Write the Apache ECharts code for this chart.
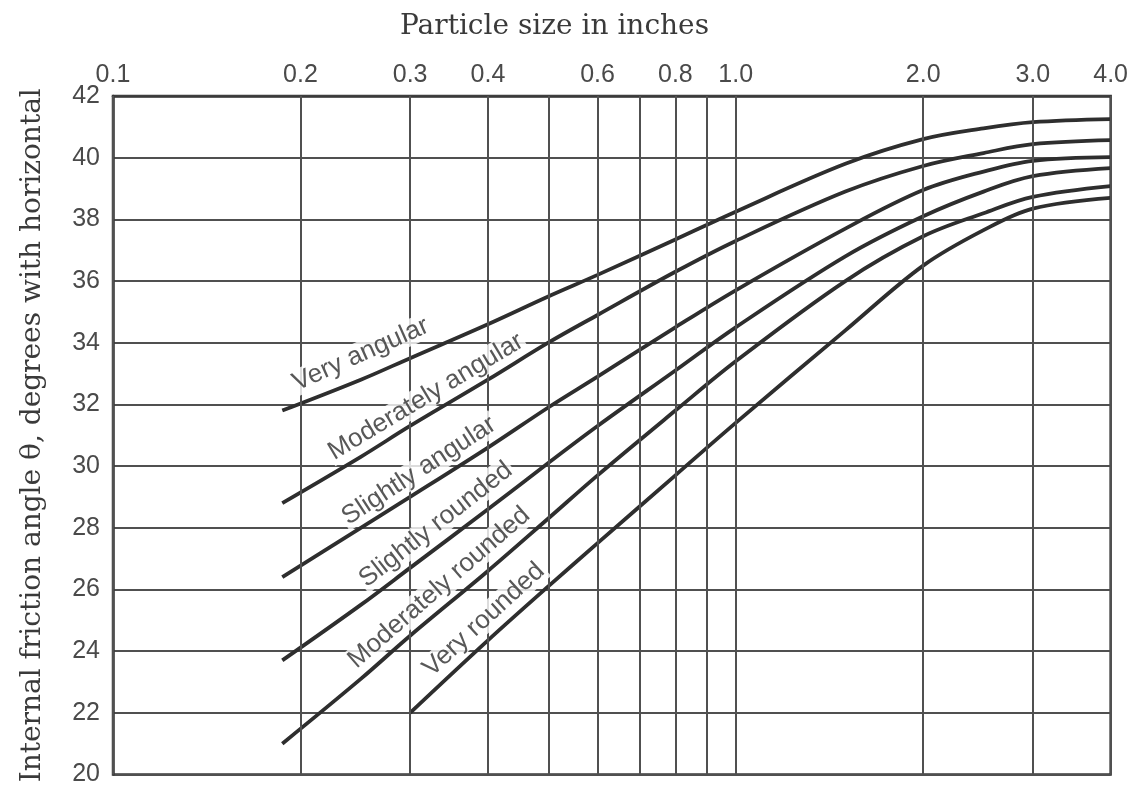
<!DOCTYPE html>
<html><head><meta charset="utf-8">
<script src="https://cdn.jsdelivr.net/npm/echarts@6/dist/echarts.min.js"></script>
<style>html,body{margin:0;padding:0;background:#fff}#c{width:1131px;height:787px}</style>
</head><body><div id="c"></div>
<script>
// ---------- data ----------
const xTickLabels = [0.1, 0.2, 0.3, 0.4, 0.6, 0.8, 1.0, 2.0, 3.0, 4.0];
const xGridValues = [0.1, 0.2, 0.3, 0.4, 0.5, 0.6, 0.7, 0.8, 0.9, 1.0, 2.0, 3.0, 4.0];
const curveNames = ['Very angular', 'Moderately angular', 'Slightly angular',
                    'Slightly rounded', 'Moderately rounded', 'Very rounded'];
const sizeA = [0.187, 0.25, 0.3, 0.4, 0.5, 0.6, 0.8, 1.0, 1.5, 2.0, 2.5, 3.0, 4.0];
const veryAngular       = [31.8, 32.8, 33.5, 34.6, 35.5, 36.2, 37.35, 38.25, 39.8, 40.6, 40.95, 41.15, 41.25];
const moderatelyAngular = [28.8, 30.3, 31.3, 32.8, 34.0, 34.9, 36.3, 37.3, 38.9, 39.73, 40.15, 40.44, 40.57];
const slightlyAngular   = [26.4, 28.0, 29.0, 30.6, 31.9, 32.9, 34.5, 35.7, 37.7, 38.95, 39.55, 39.9, 40.02];
const slightlyRounded   = [23.7, 25.5, 26.7, 28.6, 30.1, 31.3, 33.1, 34.5, 36.8, 38.1, 38.9, 39.4, 39.66];
const moderatelyRounded = [21.0, 23.1, 24.5, 26.6, 28.3, 29.7, 31.8, 33.4, 36.0, 37.45, 38.2, 38.73, 39.08];
const sizeB = [0.3, 0.4, 0.5, 0.6, 0.8, 1.0, 1.5, 2.0, 2.5, 3.0, 4.0];
const veryRounded       = [22.0, 24.35, 26.1, 27.5, 29.7, 31.4, 34.4, 36.5, 37.65, 38.35, 38.7];

// ---------- layout of curve captions (data-space anchors, angle) ----------
const captionLayout = [
  {x: 0.250, y: 33.62, angle: 24},
  {x: 0.318, y: 32.25, angle: 31},
  {x: 0.310, y: 29.85, angle: 33},
  {x: 0.330, y: 28.10, angle: 38},
  {x: 0.334, y: 26.06, angle: 41},
  {x: 0.394, y: 25.02, angle: 42.5}
];

const curves = [
  [sizeA, veryAngular], [sizeA, moderatelyAngular], [sizeA, slightlyAngular],
  [sizeA, slightlyRounded], [sizeA, moderatelyRounded], [sizeB, veryRounded]
];

const ink = '#2e2e2e';
const gridInk = '#505050';

const series = [];
series.push({
  type: 'line', data: [[1, 20]], showSymbol: false, silent: true, z: 1,
  lineStyle: {opacity: 0},
  markLine: {
    silent: true, symbol: 'none', label: {show: false}, animation: false,
    lineStyle: {color: gridInk, width: 2, type: 'solid'},
    data: xGridValues.map(v => ({xAxis: v}))
  }
});
curves.forEach((c, i) => {
  series.push({
    name: curveNames[i], type: 'line', z: 3, smooth: 0.35, showSymbol: false,
    data: c[0].map((x, k) => [x, c[1][k]]),
    lineStyle: {color: ink, width: 3.8}
  });
});
series.push({
  type: 'scatter', z: 5, symbolSize: 1, itemStyle: {color: 'rgba(0,0,0,0)'},
  data: captionLayout.map((p, i) => ({name: curveNames[i], value: [p.x, p.y], label: {rotate: p.angle}})),
  label: {
    show: true, position: 'inside', formatter: p => p.name,
    fontFamily: 'Liberation Sans, Arial, sans-serif', fontSize: 26, color: ink,
    backgroundColor: '#fff', padding: [0, 2]
  }
});

const chart = echarts.init(document.getElementById('c'), null, {renderer: 'canvas'});
chart.setOption({
  animation: false,
  backgroundColor: '#fff',
  grid: {left: 113, right: 17, top: 96, bottom: 12, show: true, borderColor: '#3a3a3a', borderWidth: 2.5},
  xAxis: {
    type: 'log', logBase: 10, min: 0.1, max: 4, position: 'top',
    axisLine: {show: true, lineStyle: {color: '#3a3a3a', width: 2.5}},
    axisTick: {show: false},
    splitLine: {show: false},
    minorSplitLine: {show: false},
    axisLabel: {
      customValues: xTickLabels,
      formatter: v => Number(v).toFixed(1),
      fontFamily: 'Liberation Sans, Arial, sans-serif', fontSize: 25, color: '#4a4a4a', margin: 8
    }
  },
  yAxis: {
    type: 'value', min: 20, max: 42, interval: 2,
    name: 'Internal friction angle \u03b8, degrees with horizontal',
    nameLocation: 'middle', nameGap: 66,
    nameTextStyle: {fontFamily: 'DejaVu Serif, serif', fontSize: 28, color: '#3a3a3a'},
    axisLine: {show: true, lineStyle: {color: '#3a3a3a', width: 2.5}},
    axisTick: {show: false},
    splitLine: {show: true, lineStyle: {color: gridInk, width: 2}},
    axisLabel: {fontFamily: 'Liberation Sans, Arial, sans-serif', fontSize: 25, color: '#4a4a4a', margin: 13}
  },
  graphic: [{
    type: 'text', left: 400, top: 13,
    style: {text: 'Particle size in inches', font: '28px "DejaVu Serif", serif', fill: '#3a3a3a'}
  }],
  series: series
});
</script>
</body></html>
